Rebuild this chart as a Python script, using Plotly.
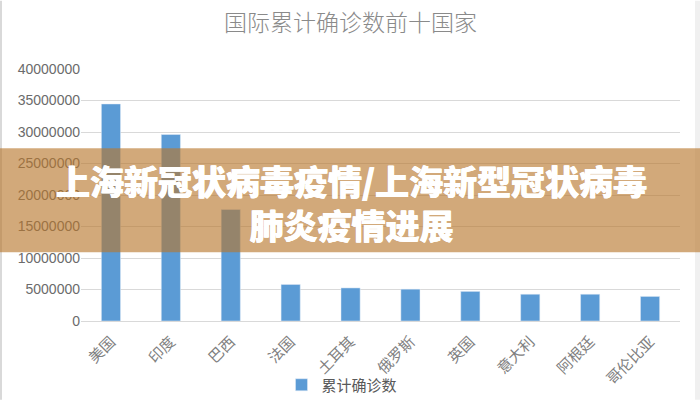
import plotly.graph_objects as go

# values
countries = ['美国', '印度', '巴西', '法国', '土耳其', '俄罗斯', '英国', '意大利', '阿根廷', '哥伦比亚']
confirmed = [34450000, 29600000, 17700000, 5800000, 5250000, 5050000, 4700000, 4250000, 4250000, 3900000]
tick_values = [0, 5000000, 10000000, 15000000, 20000000, 25000000, 30000000, 35000000, 40000000]
series_name = '累计确诊数'
chart_title = '国际累计确诊数前十国家'
banner_text = '上海新冠状病毒疫情/上海新型冠状病毒<br>肺炎疫情进展'

WIDTH, HEIGHT = 700, 400
LEFT, RIGHT, TOP, BOTTOM = 81, 20, 68.5, 79
CJK = 'Noto Sans CJK SC'


def paper_x(px):
    return (px - LEFT) / (WIDTH - LEFT - RIGHT)


def paper_y(px):
    return (HEIGHT - BOTTOM - px) / (HEIGHT - TOP - BOTTOM)


fig = go.Figure()
fig.add_trace(go.Bar(x=countries, y=confirmed, name=series_name,
                     marker_color='#5B9BD5', width=0.32))

fig.update_layout(
    width=WIDTH, height=HEIGHT,
    margin=dict(l=LEFT, r=RIGHT, t=TOP, b=BOTTOM),
    paper_bgcolor='white', plot_bgcolor='white',
    font=dict(family=CJK, color='#7a7a7a'),
    showlegend=True,
    # container refs so the legend does not push the margins
    legend=dict(orientation='h', xref='container', yref='container',
                x=0.415, xanchor='left', y=0.0375, yanchor='middle',
                bgcolor='rgba(0,0,0,0)', indentation=-9,
                font=dict(size=15, color='#595959'), itemwidth=30),
)
fig.update_xaxes(tickangle=-45, tickfont=dict(size=15, color='#808080'),
                 ticklabelstandoff=5,
                 showline=True, linecolor='#D9D9D9', ticks='', automargin=False)
fig.update_yaxes(range=[0, 40000000], tickvals=tick_values, tickformat='d',
                 tickfont=dict(family='Liberation Sans', size=14, color='#6b6b6b'),
                 gridcolor='#D9D9D9', zeroline=False, ticks='', automargin=False)

# chart title
fig.add_annotation(text=chart_title, xref='paper', yref='paper',
                   x=paper_x(350), y=paper_y(20), xanchor='center', yanchor='middle',
                   showarrow=False,
                   font=dict(size=23, color='#8a8a8a', family=CJK, weight=300))

# frame of the screenshot
fig.add_shape(type='line', xref='paper', yref='paper', layer='above',
              x0=paper_x(1), x1=paper_x(1), y0=paper_y(0), y1=paper_y(HEIGHT),
              line=dict(color='#D9D9D9', width=2))
fig.add_shape(type='rect', xref='paper', yref='paper', layer='above',
              x0=paper_x(695), x1=paper_x(700), y0=paper_y(0), y1=paper_y(HEIGHT),
              fillcolor='#F0F0F0', line_width=0)

# banner across the middle
fig.add_shape(type='rect', xref='paper', yref='paper', layer='above',
              x0=paper_x(0), x1=paper_x(700), y0=paper_y(148), y1=paper_y(252),
              fillcolor='rgba(184,119,44,0.63)', line_width=0)
# reference lettering is a bit heavier than the font's bold
heavy = '0.4px 0 0 white,-0.4px 0 0 white'
fig.add_annotation(text=banner_text, xref='paper', yref='paper',
                   x=paper_x(351), y=paper_y(202), xanchor='center', yanchor='middle',
                   showarrow=False, align='center',
                   font=dict(size=34, color='white', family=CJK, weight=900, shadow=heavy))

# the page's default 8px body margin would shift everything
fig.write_html("out.html", config=dict(displayModeBar=False),
               post_script="document.body.style.margin='0';")
